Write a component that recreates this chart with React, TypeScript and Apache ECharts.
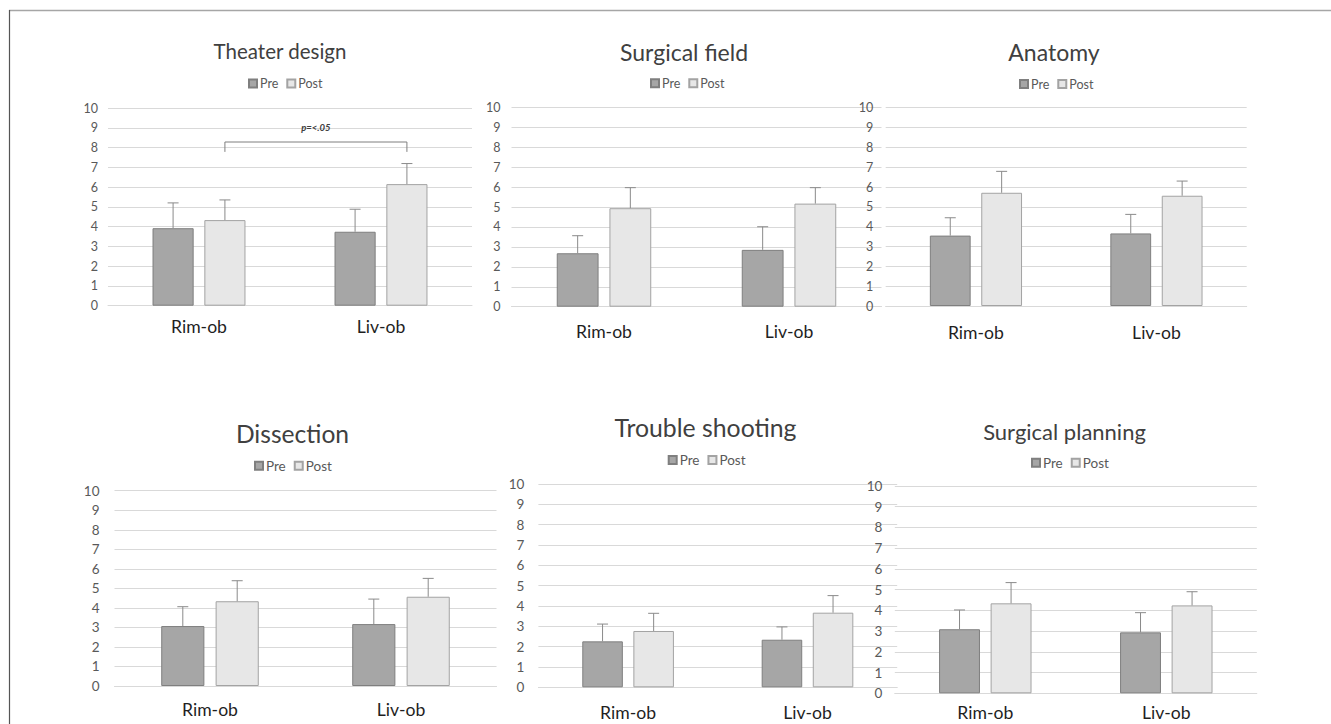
import React, { useEffect, useRef } from 'react';
import * as echarts from 'echarts';

// ---------- data ----------
const categories = ['Rim-ob', 'Liv-ob'];
const seriesNames = ['Pre', 'Post'];
const panelTitles = ['Theater design', 'Surgical field', 'Anatomy', 'Dissection', 'Trouble shooting', 'Surgical planning'];
const yMin = 0;
const yMax = 10;
const yInterval = 1;

const theaterPre = [3.92, 3.74];
const theaterPreSD = [1.28, 1.14];
const theaterPost = [4.33, 6.15];
const theaterPostSD = [1.02, 1.04];

const fieldPre = [2.68, 2.85];
const fieldPreSD = [0.88, 1.16];
const fieldPost = [4.94, 5.17];
const fieldPostSD = [1.03, 0.8];

const anatomyPre = [3.55, 3.66];
const anatomyPreSD = [0.9, 0.96];
const anatomyPost = [5.71, 5.56];
const anatomyPostSD = [1.08, 0.74];

const dissectionPre = [3.07, 3.17];
const dissectionPreSD = [0.99, 1.28];
const dissectionPost = [4.34, 4.57];
const dissectionPostSD = [1.05, 0.94];

const troublePre = [2.26, 2.34];
const troublePreSD = [0.85, 0.63];
const troublePost = [2.77, 3.67];
const troublePostSD = [0.87, 0.84];

const planningPre = [3.09, 2.94];
const planningPreSD = [0.93, 0.95];
const planningPost = [4.34, 4.24];
const planningPostSD = [1.0, 0.66];

// significance bracket (panel 0): between Post bars of the two categories
const sigLabel = 'p=<.05';
const sigPanel = 0;
const sigFrom = 0;
const sigTo = 1;
const sigLevel = 8.28;
const sigDrop = 7.78;
const sigTextLevel = 8.99;

const panelData = [
  { pre: theaterPre, preSD: theaterPreSD, post: theaterPost, postSD: theaterPostSD },
  { pre: fieldPre, preSD: fieldPreSD, post: fieldPost, postSD: fieldPostSD },
  { pre: anatomyPre, preSD: anatomyPreSD, post: anatomyPost, postSD: anatomyPostSD },
  { pre: dissectionPre, preSD: dissectionPreSD, post: dissectionPost, postSD: dissectionPostSD },
  { pre: troublePre, preSD: troublePreSD, post: troublePost, postSD: troublePostSD },
  { pre: planningPre, preSD: planningPreSD, post: planningPost, postSD: planningPostSD },
];

// ---------- layout ----------
const layouts = [
  { grid: { left: 108, top: 108, width: 364, height: 197.7 }, title: { x: 280, y: 51, size: 20.5 }, legend: { x: 248, y: 83.5, size: 12.5 }, yLab: 12.5, yMargin: 10, xMargin: 12 },
  { grid: { left: 511.5, top: 107.3, width: 370, height: 199.4 }, title: { x: 684, y: 52, size: 23 }, legend: { x: 650, y: 83.3, size: 12.5 }, yLab: 12.5, yMargin: 11, xMargin: 16 },
  { grid: { left: 885.7, top: 107.7, width: 361, height: 198.3 }, title: { x: 1054, y: 52, size: 23 }, legend: { x: 1019, y: 84, size: 12.5 }, yLab: 12.5, yMargin: 12.5, xMargin: 17 },
  { grid: { left: 114.5, top: 490.7, width: 382, height: 195.3 }, title: { x: 292.5, y: 434, size: 24.6 }, legend: { x: 254, y: 465.7, size: 13.5 }, yLab: 13.5, yMargin: 15, xMargin: 14 },
  { grid: { left: 538.4, top: 484, width: 358.8, height: 203.3 }, title: { x: 705.5, y: 428, size: 24.8 }, legend: { x: 667.7, y: 460, size: 13.5 }, yLab: 13.5, yMargin: 14, xMargin: 16 },
  { grid: { left: 894.8, top: 486, width: 362, height: 207.3 }, title: { x: 1064.5, y: 431, size: 22 }, legend: { x: 1031, y: 462.7, size: 13.5 }, yLab: 13.5, yMargin: 12.5, xMargin: 10 },
];

const BAR_W = 0.226;
const BAR_GAP = 0.26;
const PRE_FILL = '#a6a6a6';
const PRE_BORDER = '#7f7f7f';
const POST_FILL = '#e7e7e7';
const POST_BORDER = '#a3a3a3';
const ERR_COLOR = '#8a8a8a';
const GRID_COLOR = '#d9d9d9';
const FONT = 'Lato, "Open Sans", sans-serif';

function slotOffset(api: any, slot: number) {
  const band = api.size([1, 0])[0];
  const bw = band * BAR_W;
  const gap = bw * BAR_GAP;
  return ((bw + gap) / 2) * (slot === 0 ? -1 : 1);
}

function errorRender(params: any, api: any) {
  const cat = api.value(0);
  const mean = api.value(1);
  const upper = api.value(2);
  const slot = api.value(3);
  const base = api.coord([cat, mean]);
  const top = api.coord([cat, upper]);
  const x = base[0] + slotOffset(api, slot);
  const style = { stroke: ERR_COLOR, lineWidth: 1, fill: null };
  return {
    type: 'group',
    children: [
      { type: 'line', shape: { x1: x, y1: base[1], x2: x, y2: top[1] }, style },
      { type: 'line', shape: { x1: x - 5.5, y1: top[1], x2: x + 5.5, y2: top[1] }, style },
    ],
  };
}

function sigRender(params: any, api: any) {
  const c0 = api.value(0);
  const c1 = api.value(1);
  const lvl = api.value(2);
  const drop = api.value(3);
  const tl = api.value(4);
  const off = slotOffset(api, 1);
  const a = api.coord([c0, lvl]);
  const b = api.coord([c1, lvl]);
  const ad = api.coord([c0, drop]);
  const t = api.coord([c0, tl]);
  const x0 = a[0] + off;
  const x1 = b[0] + off;
  return {
    type: 'group',
    children: [
      {
        type: 'polyline',
        shape: { points: [[x0, ad[1]], [x0, a[1]], [x1, a[1]], [x1, ad[1]]] },
        style: { stroke: '#7f7f7f', lineWidth: 1, fill: null },
      },
      {
        type: 'text',
        x: (x0 + x1) / 2,
        y: t[1],
        style: {
          text: sigLabel,
          fill: '#404040',
          font: 'italic bold 9.5px ' + FONT,
          textAlign: 'center',
          textVerticalAlign: 'middle',
        },
      },
    ],
  };
}

function buildOption() {
  const grid: any[] = [];
  const xAxis: any[] = [];
  const yAxis: any[] = [];
  const title: any[] = [];
  const legend: any[] = [];
  const series: any[] = [];

  layouts.forEach((L, i) => {
    const d = panelData[i];
    grid.push({ ...L.grid, containLabel: false });
    title.push({
      text: panelTitles[i],
      left: L.title.x,
      top: L.title.y - L.title.size * 0.6,
      textAlign: 'center',
      padding: 0,
      textStyle: { fontFamily: FONT, fontSize: L.title.size, fontWeight: 'normal', color: '#404040', lineHeight: L.title.size * 1.2 },
    });
    legend.push({
      data: seriesNames,
      left: L.legend.x,
      top: L.legend.y - 7,
      padding: 0,
      itemWidth: 8,
      itemHeight: 8,
      itemGap: 8,
      icon: 'rect',
      selectedMode: false,
      textStyle: { fontFamily: FONT, fontSize: L.legend.size, color: '#595959', lineHeight: 14, padding: [0, 0, 0, -2] },
    });
    xAxis.push({
      type: 'category',
      gridIndex: i,
      data: categories,
      axisLine: { lineStyle: { color: GRID_COLOR, width: 1 } },
      axisTick: { show: false },
      axisLabel: { fontFamily: FONT, fontSize: 17.6, color: '#1f1f1f', margin: L.xMargin },
    });
    yAxis.push({
      type: 'value',
      gridIndex: i,
      min: yMin,
      max: yMax,
      interval: yInterval,
      axisLine: { show: false },
      axisTick: { show: false },
      splitLine: { lineStyle: { color: GRID_COLOR, width: 1 } },
      axisLabel: { fontFamily: FONT, fontSize: L.yLab, color: '#595959', margin: L.yMargin },
    });
    series.push({
      name: 'Pre',
      type: 'bar',
      xAxisIndex: i,
      yAxisIndex: i,
      barWidth: BAR_W * 100 + '%',
      barGap: BAR_GAP * 100 + '%',
      data: d.pre,
      itemStyle: { color: PRE_FILL, borderColor: PRE_BORDER, borderWidth: 1 },
      z: 2,
    });
    series.push({
      name: 'Post',
      type: 'bar',
      xAxisIndex: i,
      yAxisIndex: i,
      barWidth: BAR_W * 100 + '%',
      barGap: BAR_GAP * 100 + '%',
      data: d.post,
      itemStyle: { color: POST_FILL, borderColor: POST_BORDER, borderWidth: 1 },
      z: 2,
    });
    const errData: number[][] = [];
    d.pre.forEach((v, k) => errData.push([k, v, v + d.preSD[k], 0]));
    d.post.forEach((v, k) => errData.push([k, v, v + d.postSD[k], 1]));
    series.push({
      name: 'err' + i,
      type: 'custom',
      xAxisIndex: i,
      yAxisIndex: i,
      renderItem: errorRender,
      encode: { x: 0, y: [1, 2] },
      data: errData,
      z: 3,
      silent: true,
    });
  });

  series.push({
    name: 'sig',
    type: 'custom',
    xAxisIndex: sigPanel,
    yAxisIndex: sigPanel,
    renderItem: sigRender,
    encode: { x: 0, y: 2 },
    data: [[sigFrom, sigTo, sigLevel, sigDrop, sigTextLevel]],
    z: 4,
    silent: true,
  });

  return {
    animation: false,
    backgroundColor: '#ffffff',
    textStyle: { fontFamily: FONT },
    title,
    legend,
    grid,
    xAxis,
    yAxis,
    series,
    graphic: [
      { type: 'line', shape: { x1: 9, y1: 10.5, x2: 1331, y2: 10.5 }, style: { stroke: '#a6a6a6', lineWidth: 1.5 }, silent: true },
      { type: 'line', shape: { x1: 9.5, y1: 10, x2: 9.5, y2: 724 }, style: { stroke: '#555555', lineWidth: 1.2 }, silent: true },
    ],
  };
}

export default function App() {
  const ref = useRef<HTMLDivElement>(null);
  useEffect(() => {
    if (!ref.current) return;
    const chart = echarts.init(ref.current, null, { renderer: 'svg' });
    chart.setOption(buildOption() as any);
    return () => chart.dispose();
  }, []);
  return <div ref={ref} style={{ position: 'absolute', left: 0, top: 0, width: 1331, height: 724 }} />;
}
